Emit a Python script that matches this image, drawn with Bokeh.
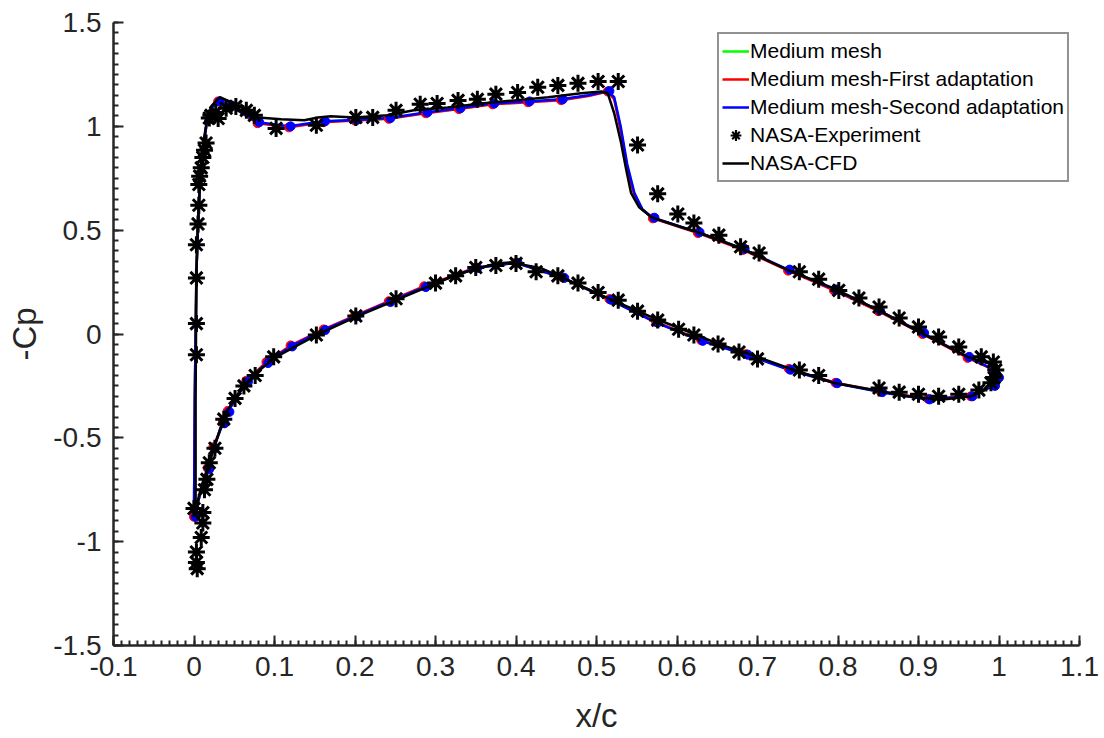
from bokeh.plotting import figure
from bokeh.models import (Range1d, SingleIntervalTicker, CustomJSTickFormatter,
                          Legend, LegendItem)
from bokeh.embed import file_html
from bokeh.resources import INLINE

# ---------------- data ----------------
# NASA experiment (x/c, -Cp)
exp_upper_x = [0.003, 0.003, 0.003, 0.003, 0.005, 0.006, 0.006, 0.007, 0.009, 0.011,
               0.013, 0.015, 0.019, 0.021, 0.027, 0.030, 0.040, 0.052, 0.065, 0.075,
               0.102, 0.152, 0.201, 0.222, 0.251, 0.281, 0.302, 0.328, 0.352, 0.375,
               0.402, 0.427, 0.452, 0.477, 0.502, 0.527, 0.551, 0.576, 0.601, 0.621,
               0.652, 0.679, 0.702, 0.752, 0.776, 0.801, 0.826, 0.851, 0.876, 0.900,
               0.925, 0.950, 0.978, 0.993, 0.996]
exp_upper_cp = [-0.10, 0.05, 0.27, 0.43, 0.53, 0.62, 0.72, 0.76, 0.80, 0.85,
                0.885, 0.92, 1.04, 1.053, 1.067, 1.038, 1.087, 1.096, 1.077, 1.053,
                0.99, 1.005, 1.043, 1.043, 1.077, 1.106, 1.11, 1.125, 1.13, 1.155,
                1.163, 1.188, 1.197, 1.207, 1.216, 1.216, 0.91, 0.675, 0.578, 0.535,
                0.476, 0.42, 0.39, 0.30, 0.264, 0.21, 0.173, 0.13, 0.077, 0.034,
                -0.014, -0.062, -0.11, -0.135, -0.173]
exp_lower_x = [0.994, 0.990, 0.975, 0.950, 0.925, 0.900, 0.876, 0.851, 0.776, 0.752,
               0.700, 0.677, 0.651, 0.621, 0.602, 0.576, 0.551, 0.527, 0.502, 0.477,
               0.452, 0.425, 0.400, 0.375, 0.350, 0.325, 0.300, 0.251, 0.201, 0.152,
               0.099, 0.076, 0.062, 0.051, 0.037, 0.026, 0.019, 0.016, 0.013, 0.000,
               0.011, 0.011, 0.009, 0.003, 0.003, 0.004]
exp_lower_cp = [-0.21, -0.235, -0.27, -0.29, -0.30, -0.29, -0.28, -0.26, -0.20, -0.173,
                -0.12, -0.087, -0.048, -0.005, 0.023, 0.067, 0.11, 0.163, 0.20, 0.245,
                0.28, 0.30, 0.34, 0.33, 0.32, 0.28, 0.245, 0.17, 0.087, -0.005,
                -0.11, -0.20, -0.25, -0.31, -0.41, -0.55, -0.62, -0.70, -0.75, -0.84,
                -0.86, -0.91, -0.98, -1.05, -1.10, -1.13]

# NASA CFD (closed loop: lower TE -> LE -> upper TE)
cfd_x = [0.997, 0.981, 0.965, 0.928, 0.887, 0.845, 0.795, 0.745, 0.700, 0.655,
         0.609, 0.568, 0.514, 0.464, 0.431, 0.394, 0.375, 0.325, 0.251, 0.201,
         0.152, 0.102, 0.077, 0.052, 0.037, 0.027, 0.019, 0.012, 0.006, 0.003,
         0.002, 0.002, 0.003, 0.005, 0.008, 0.012, 0.016, 0.022, 0.032, 0.050,
         0.080, 0.108, 0.137, 0.154, 0.170, 0.199, 0.241, 0.273, 0.315, 0.357,
         0.398, 0.440, 0.481, 0.506, 0.514, 0.522, 0.530, 0.537, 0.543, 0.553,
         0.568, 0.605, 0.626, 0.680, 0.738, 0.795, 0.850, 0.903, 0.961, 0.986,
         1.000, 0.997]
cfd_cp = [-0.21, -0.27, -0.30, -0.317, -0.30, -0.27, -0.236, -0.173, -0.11, -0.053,
          0.019, 0.082, 0.173, 0.26, 0.317, 0.345, 0.34, 0.284, 0.163, 0.082,
          -0.005, -0.11, -0.188, -0.30, -0.40, -0.525, -0.62, -0.70, -0.78, -0.846,
          -0.88, -0.30, 0.30, 0.55, 0.78, 0.93, 1.03, 1.10, 1.14, 1.11,
          1.043, 1.034, 1.029, 1.043, 1.048, 1.043, 1.053, 1.077, 1.091, 1.11,
          1.125, 1.14, 1.159, 1.168, 1.159, 1.063, 0.93, 0.79, 0.678, 0.61,
          0.563, 0.515, 0.49, 0.413, 0.308, 0.22, 0.115, 0.005, -0.11, -0.14,
          -0.175, -0.21]

# Present computations (medium mesh and its adaptations)
mesh_lower_x = [0.998, 0.993, 0.965, 0.912, 0.853, 0.797, 0.739, 0.686, 0.630, 0.574,
                0.516, 0.458, 0.400, 0.350, 0.286, 0.242, 0.200, 0.161, 0.120, 0.090,
                0.065, 0.042, 0.036, 0.024, 0.017, 0.010, 0.004, 0.000]
mesh_upper_x = [0.001, 0.003, 0.006, 0.010, 0.016, 0.022, 0.030, 0.045, 0.079, 0.118,
                0.161, 0.200, 0.242, 0.288, 0.329, 0.371, 0.415, 0.456, 0.490, 0.514,
                0.522, 0.530, 0.538, 0.547, 0.557, 0.570, 0.626, 0.682, 0.738, 0.795,
                0.850, 0.905, 0.961, 0.993, 0.998]
mesh_lower_dot = [1, 1, 1, 1, 1, 1, 1, 1, 1, 1, 1, 1, 1, 1, 1, 1, 1, 1, 1, 1,
                  1, 1, 1, 1, 1, 0, 0, 1]
mesh_upper_dot = [0, 0, 0, 0, 0, 0, 1, 1, 1, 1, 1, 1, 1, 1, 1, 1, 1, 1, 0, 1,
                  0, 0, 0, 0, 0, 1, 1, 1, 1, 1, 1, 1, 1, 1, 0]

medium_lower_cp = [-0.21, -0.25, -0.30, -0.314, -0.279, -0.236, -0.171, -0.099, -0.032, 0.056,
                   0.166, 0.27, 0.343, 0.318, 0.227, 0.155, 0.086, 0.02, -0.058, -0.138,
                   -0.228, -0.373, -0.428, -0.548, -0.648, -0.74, -0.82, -0.88]
medium_upper_cp = [-0.30, 0.30, 0.62, 0.86, 1.02, 1.09, 1.12, 1.10, 1.018, 0.998,
                   1.023, 1.029, 1.038, 1.065, 1.085, 1.108, 1.118, 1.128, 1.148, 1.169,
                   1.135, 0.99, 0.81, 0.675, 0.60, 0.558, 0.488, 0.408, 0.308, 0.213,
                   0.113, 0.003, -0.112, -0.171, -0.21]
first_lower_cp = [-0.21, -0.245, -0.30, -0.312, -0.277, -0.235, -0.168, -0.097, -0.030, 0.058,
                  0.168, 0.272, 0.343, 0.32, 0.23, 0.158, 0.088, 0.022, -0.055, -0.135,
                  -0.225, -0.37, -0.425, -0.545, -0.645, -0.74, -0.82, -0.88]
first_upper_cp = [-0.30, 0.30, 0.62, 0.86, 1.02, 1.09, 1.12, 1.10, 1.015, 0.995,
                  1.02, 1.028, 1.036, 1.063, 1.083, 1.106, 1.116, 1.126, 1.146, 1.168,
                  1.13, 0.98, 0.80, 0.67, 0.60, 0.557, 0.486, 0.405, 0.305, 0.21,
                  0.11, 0.0, -0.115, -0.172, -0.21]
second_lower_cp = [-0.21, -0.25, -0.30, -0.315, -0.28, -0.237, -0.172, -0.10, -0.033, 0.055,
                   0.165, 0.27, 0.343, 0.318, 0.226, 0.154, 0.085, 0.019, -0.06, -0.14,
                   -0.23, -0.375, -0.43, -0.55, -0.65, -0.74, -0.82, -0.88]
second_upper_cp = [-0.30, 0.30, 0.62, 0.86, 1.02, 1.09, 1.12, 1.10, 1.02, 1.0,
                   1.025, 1.03, 1.04, 1.067, 1.087, 1.11, 1.12, 1.13, 1.15, 1.17,
                   1.14, 1.0, 0.82, 0.68, 0.60, 0.56, 0.49, 0.41, 0.31, 0.215,
                   0.115, 0.005, -0.11, -0.17, -0.21]

x_ticks_interval = 0.1
y_ticks_interval = 0.5

# ---------------- figure ----------------
FONT = "Liberation Sans"
AX = "#262626"

p = figure(width=1104, height=738, output_backend="svg", toolbar_location=None,
           x_range=Range1d(-0.1, 1.1), y_range=Range1d(-1.5, 1.5),
           min_border_left=113, min_border_right=25, min_border_top=22,
           min_border_bottom=93)
p.outline_line_color = None
p.grid.visible = False
p.background_fill_color = "white"
p.border_fill_color = "white"

fmt = CustomJSTickFormatter(code="return Number(tick.toFixed(3)).toString();")
p.xaxis.ticker = SingleIntervalTicker(interval=x_ticks_interval, num_minor_ticks=10)
p.yaxis.ticker = SingleIntervalTicker(interval=y_ticks_interval, num_minor_ticks=10)
for ax in (p.xaxis, p.yaxis):
    ax.formatter = fmt
    ax.axis_line_color = AX
    ax.axis_line_width = 2.5
    ax.major_tick_line_color = AX
    ax.minor_tick_line_color = AX
    ax.major_tick_line_width = 2
    ax.minor_tick_line_width = 2
    ax.major_tick_in = 10
    ax.major_tick_out = 0
    ax.minor_tick_in = 5
    ax.minor_tick_out = 0
    ax.major_label_text_font = FONT
    ax.major_label_text_font_size = "28px"
    ax.major_label_text_color = AX
    ax.axis_label_text_font = FONT
    ax.axis_label_text_font_size = "33px"
    ax.axis_label_text_font_style = "normal"
    ax.axis_label_text_color = AX
p.xaxis.axis_label = "x/c"
p.yaxis.axis_label = "-Cp"
p.xaxis.major_label_standoff = 11
p.yaxis.major_label_standoff = 12
p.xaxis.axis_label_standoff = 18
p.yaxis.axis_label_standoff = 7


def loop(lx, lc, ux, uc):
    return list(lx) + list(ux), list(lc) + list(uc)


mx, med = loop(mesh_lower_x, medium_lower_cp, mesh_upper_x, medium_upper_cp)
_, fst = loop(mesh_lower_x, first_lower_cp, mesh_upper_x, first_upper_cp)
_, snd = loop(mesh_lower_x, second_lower_cp, mesh_upper_x, second_upper_cp)
dots = list(mesh_lower_dot) + list(mesh_upper_dot)

r_med = p.line(mx, med, line_color="#00ff00", line_width=2.5)
r_fst = p.line(mx, fst, line_color="#ff0000", line_width=2.5)
r_snd = p.line(mx, snd, line_color="#0000ff", line_width=2.5)

dx = [x for x, d in zip(mx, dots) if d]
p.scatter(dx, [c for c, d in zip(fst, dots) if d], marker="circle", size=9,
          fill_color="#ff0000", line_color="#ff0000")
p.scatter([x + 0.002 for x in dx], [c for c, d in zip(snd, dots) if d], marker="circle",
          size=9, fill_color="#0000ff", line_color="#0000ff")

r_cfd = p.line(cfd_x, cfd_cp, line_color="black", line_width=2.5)

p.scatter(list(exp_upper_x) + list(exp_lower_x),
          list(exp_upper_cp) + list(exp_lower_cp),
          marker="asterisk", size=17, line_color="black", line_width=3)
# legend-only key for the experiment marker (a single NaN point: draws nothing in the plot)
nan = float("nan")
r_exp_key = p.scatter(x=[nan], y=[nan], marker="asterisk", line_color="black",
                      line_width=2.2)

legend = Legend(items=[
    LegendItem(label="Medium mesh", renderers=[r_med]),
    LegendItem(label="Medium mesh-First adaptation", renderers=[r_fst]),
    LegendItem(label="Medium mesh-Second adaptation", renderers=[r_snd]),
    LegendItem(label="NASA-Experiment", renderers=[r_exp_key]),
    LegendItem(label="NASA-CFD", renderers=[r_cfd]),
], location="top_right")
legend.margin = 10
legend.padding = 3
legend.spacing = 0
legend.label_standoff = 1
legend.glyph_width = 27
legend.glyph_height = 28
legend.label_height = 28
legend.label_text_font = FONT
legend.label_text_font_size = "21px"
legend.label_text_color = "black"
legend.border_line_color = AX
legend.border_line_width = 2
legend.background_fill_alpha = 1
p.add_layout(legend, "center")

open("out.html", "w").write(file_html(p, INLINE))
